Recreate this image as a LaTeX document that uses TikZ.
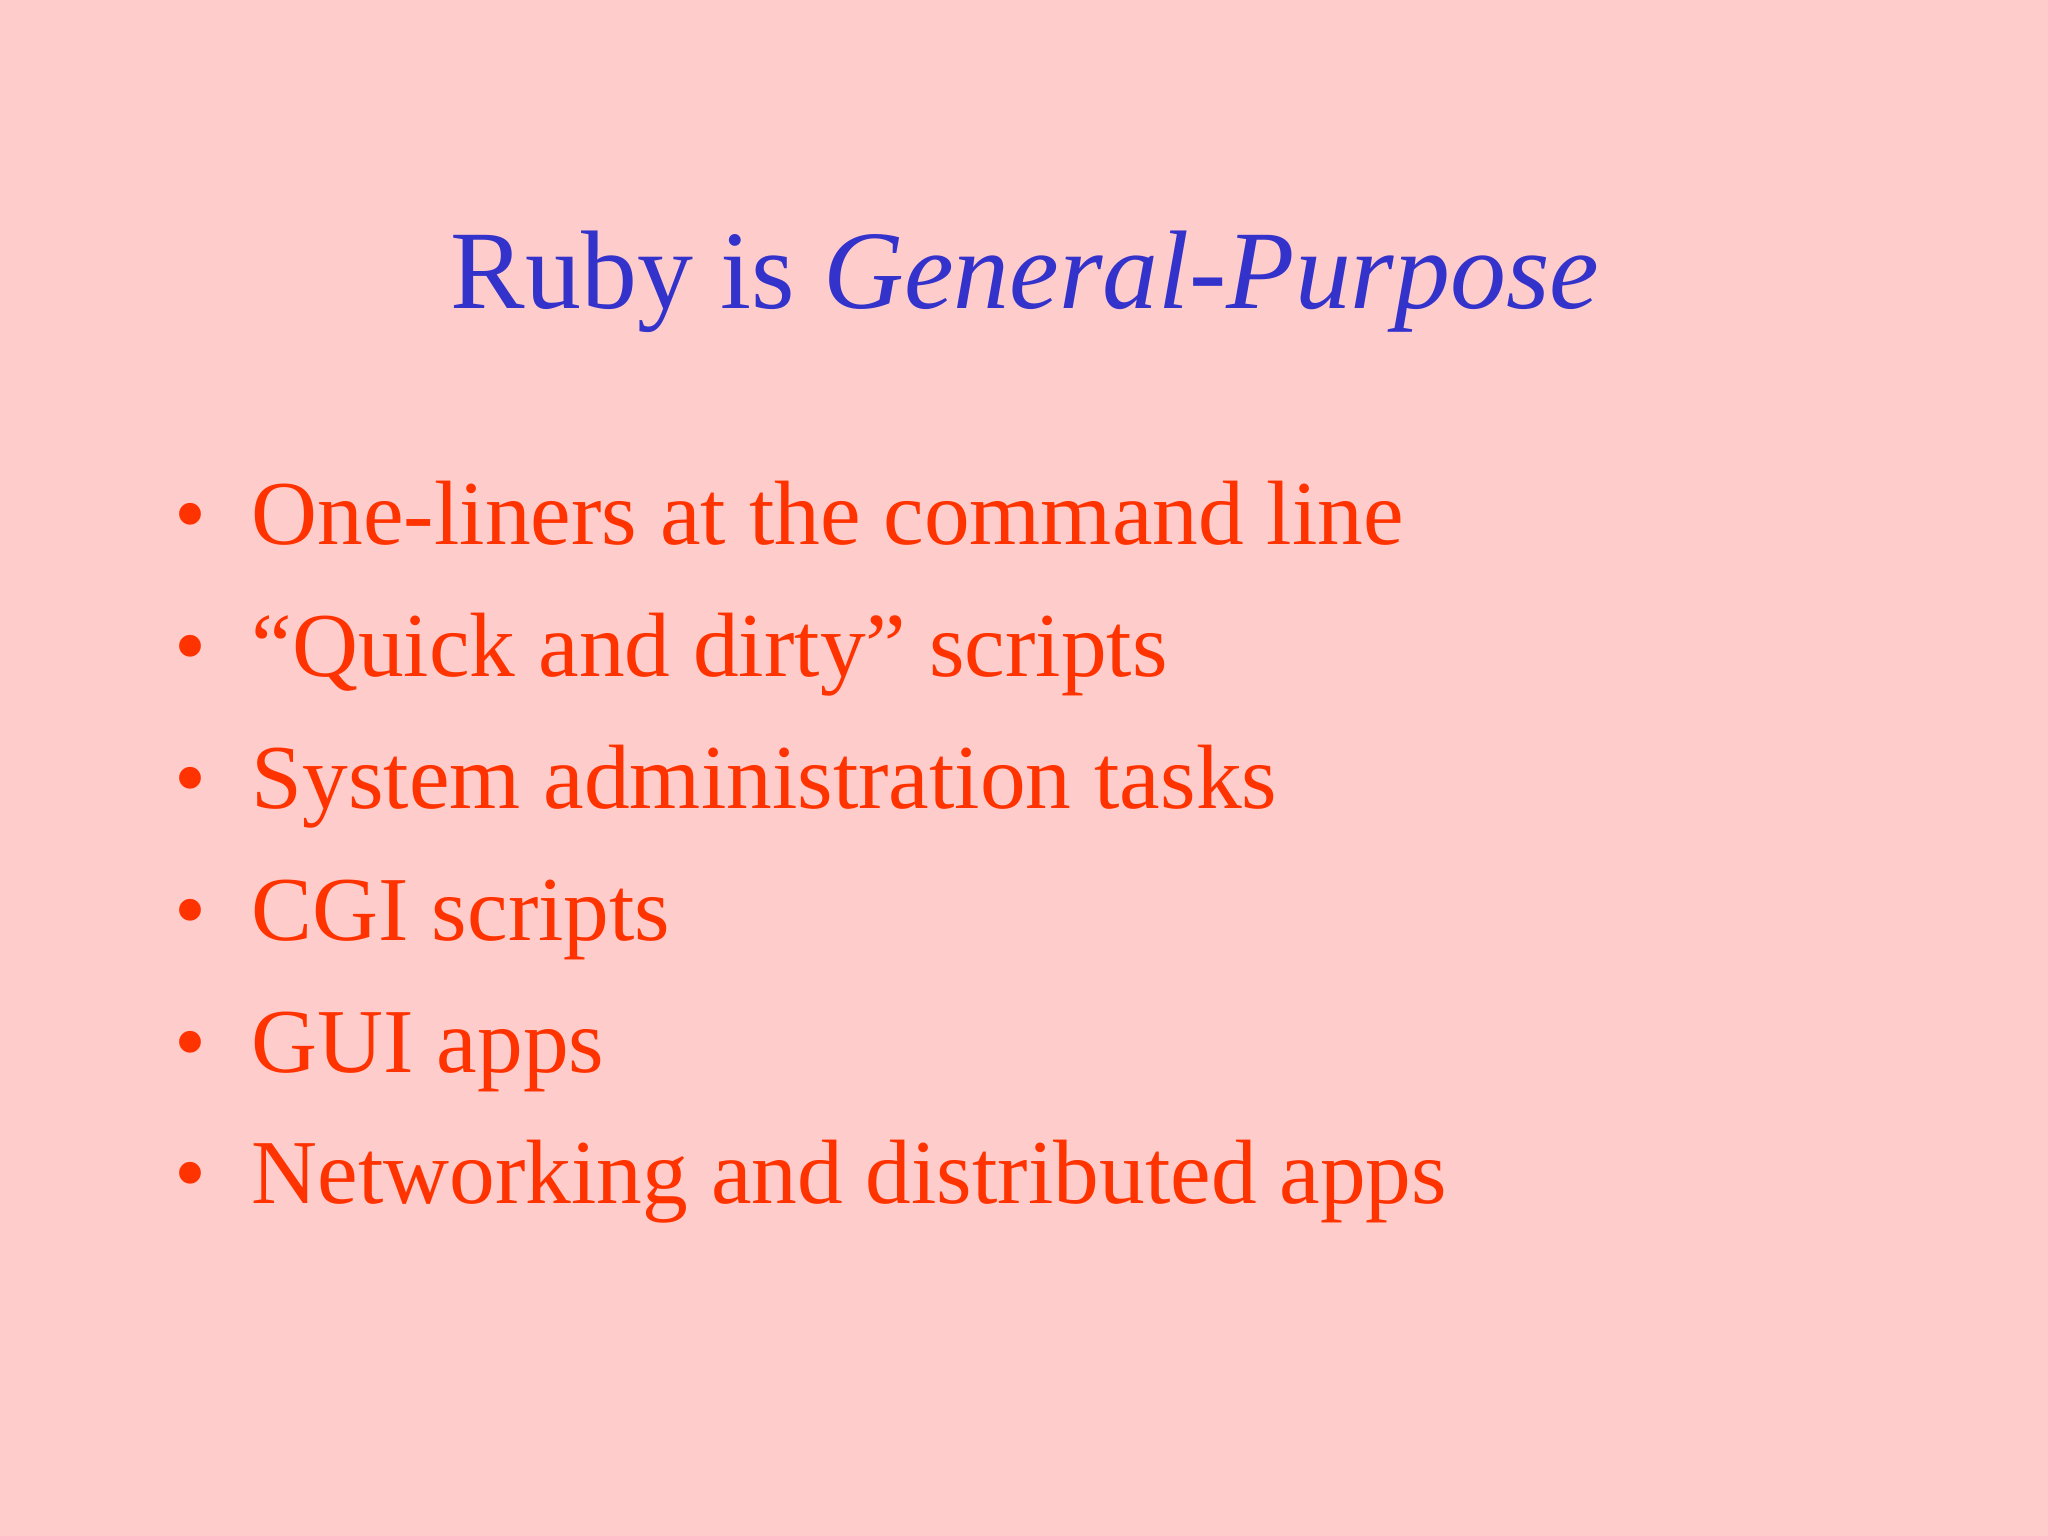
\documentclass[tikz,border=0pt]{standalone}
\usepackage{fontspec}
\setmainfont{Liberation Serif}
\definecolor{bgpink}{HTML}{FFCCCC}
\definecolor{titleblue}{HTML}{3333CC}
\definecolor{itemred}{HTML}{FF3300}
\begin{document}
\begin{tikzpicture}[
  titletext/.style={inner sep=0pt, anchor=base, text=titleblue, font=\fontsize{31.8}{38}\selectfont},
  itemtext/.style={inner sep=0pt, anchor=base west, text=itemred, font=\fontsize{26}{31}\selectfont},
  bulletmark/.style={inner sep=0pt, anchor=base, text=itemred, font=\fontsize{26}{31}\selectfont}
]
\fill[bgpink] (0,0) rectangle (20.48,15.36);
\useasboundingbox (0,0) rectangle (20.48,15.36);
\node[titletext] (title) at (10.25,12.27) {Ruby is \textit{General-Purpose}};
\foreach \txt [count=\i from 0] in {One-liners at the command line,
  “Quick and dirty” scripts,
  System administration tasks,
  CGI scripts,
  GUI apps,
  Networking and distributed apps} {
  \pgfmathsetmacro{\yy}{(1536-545-131.8*\i)/100}
  \node[bulletmark] (b\i) at (1.90,\yy) {•};
  \node[itemtext] (t\i) at (2.51,\yy) {\txt};
}
\end{tikzpicture}
\end{document}
